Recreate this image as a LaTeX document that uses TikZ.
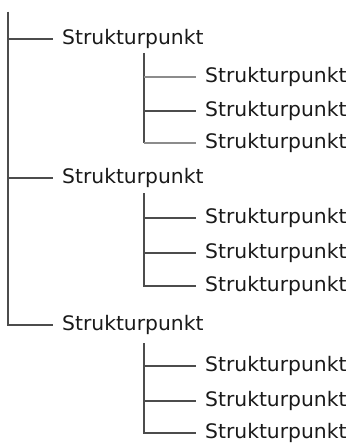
\documentclass[tikz,border=0pt]{standalone}
\usepackage{fontspec}
\setmainfont{DejaVu Sans}
\newfontfamily\lblfont[FakeStretch=1.015]{DejaVu Sans}
\begin{document}
\begin{tikzpicture}[x=1pt,y=-1pt,
  lbl/.style={anchor=west,inner xsep=9pt,inner ysep=0pt,font=\lblfont\fontsize{20}{24}\selectfont,text=black!90},
  conn/.style={draw=black!70,line width=1.6pt},
  thin/.style={draw=black!45,line width=1.1pt}]
\useasboundingbox (0,0) rectangle (348,444);
% level 1
\coordinate (m0) at (8,12);
\node[lbl] (a1) at (53,39) {Strukturpunkt};
\node[lbl] (a2) at (53,178) {Strukturpunkt};
\node[lbl] (a3) at (53,325) {Strukturpunkt};
\draw[conn] (m0) |- (a1.west);
\draw[conn] (m0) |- (a2.west);
\draw[conn] (m0) |- (a3.west);
% group 1
\coordinate (s1) at (144,53);
\node[lbl] (b11) at (196,77) {Strukturpunkt};
\node[lbl] (b12) at (196,111) {Strukturpunkt};
\node[lbl] (b13) at (196,143) {Strukturpunkt};
\draw[conn] (s1) -- (s1 |- b13.west);
\draw[thin] (s1 |- b11.west) -- (b11.west);
\draw[conn] (s1 |- b12.west) -- (b12.west);
\draw[thin] (s1 |- b13.west) -- (b13.west);
% group 2
\coordinate (s2) at (144,193);
\node[lbl] (b21) at (196,218) {Strukturpunkt};
\node[lbl] (b22) at (196,253) {Strukturpunkt};
\node[lbl] (b23) at (196,286) {Strukturpunkt};
\draw[conn] (s2) |- (b21.west);
\draw[conn] (s2) |- (b22.west);
\draw[conn] (s2) |- (b23.west);
% group 3
\coordinate (s3) at (144,343);
\node[lbl] (b31) at (196,366) {Strukturpunkt};
\node[lbl] (b32) at (196,401) {Strukturpunkt};
\node[lbl] (b33) at (196,433) {Strukturpunkt};
\draw[conn] (s3) |- (b31.west);
\draw[conn] (s3) |- (b32.west);
\draw[conn] (s3) |- (b33.west);
\end{tikzpicture}
\end{document}
